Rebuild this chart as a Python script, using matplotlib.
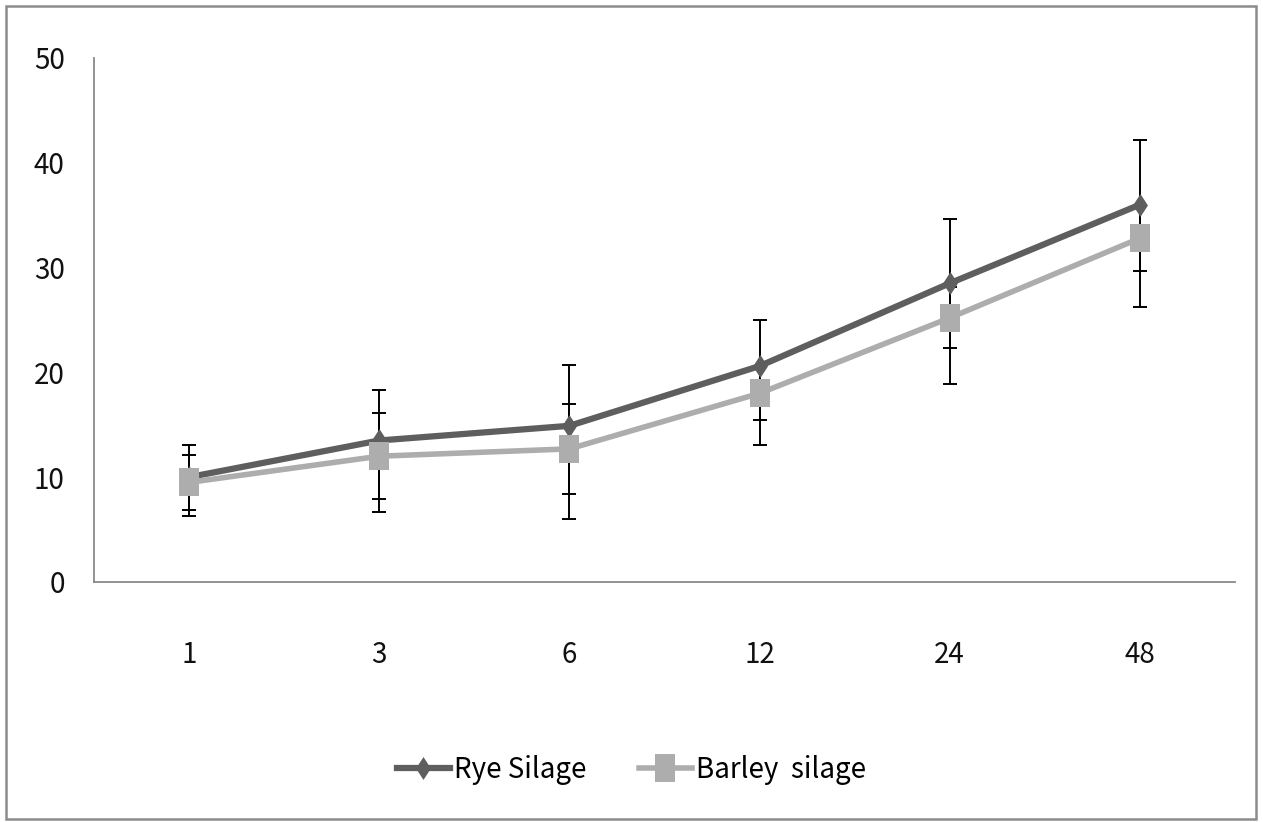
import matplotlib
matplotlib.use("Agg")
import matplotlib.pyplot as plt
from matplotlib.patches import Rectangle

# incubation times (h) and degradability means
hours = ["1", "3", "6", "12", "24", "48"]
rye = [10.0, 13.5, 14.9, 20.6, 28.5, 36.0]
barley = [9.5, 12.0, 12.7, 18.0, 25.2, 32.8]

# error bar extents (below / above mean)
rye_err_low = [3.7, 6.8, 8.9, 7.5, 9.6, 9.8]
rye_err_high = [3.1, 4.8, 5.8, 4.4, 6.1, 6.2]
barley_err = [2.6, 4.1, 4.3, 2.5, 2.9, 3.1]

yticks = [0, 10, 20, 30, 40, 50]

plt.rcParams['font.family'] = ['Noto Sans CJK KR', 'DejaVu Sans']

fig = plt.figure(figsize=(12.63, 8.22), dpi=100)
ax = fig.add_axes([0.0744, 0.292, 0.9034, 0.6375])

x = list(range(len(hours)))

# tall diamond and tall square markers
diamond = [(0, 1), (0.65, 0), (0, -1), (-0.65, 0), (0, 1)]
square = [(-0.75, -1), (0.75, -1), (0.75, 1), (-0.75, 1), (-0.75, -1)]

ax.errorbar(x, rye, yerr=[rye_err_low, rye_err_high], fmt='none',
            ecolor='black', elinewidth=1.4, capsize=4.7, capthick=1.4, zorder=1)
ax.errorbar(x, barley, yerr=barley_err, fmt='none',
            ecolor='black', elinewidth=1.4, capsize=4.7, capthick=1.4, zorder=1)

ax.plot(x, rye, color='#5e5e5e', lw=4.5, marker=diamond, markersize=16.5,
        markeredgewidth=0, label='Rye Silage', zorder=2)
ax.plot(x, barley, color='#adadad', lw=4.0, marker=square, markersize=20,
        markeredgewidth=0, label='Barley  silage', zorder=3)

ax.set_xlim(-0.5, len(hours) - 0.5)
ax.set_ylim(0, 50)
ax.set_xticks(x)
ax.set_xticklabels(hours)
ax.set_yticks(yticks)

for side in ['top', 'right']:
    ax.spines[side].set_visible(False)
for side in ['left', 'bottom']:
    ax.spines[side].set_color('#8a8a8a')
    ax.spines[side].set_linewidth(1.3)

ax.tick_params(axis='both', length=0, labelsize=20, colors='#111111')
ax.tick_params(axis='y', pad=21)
ax.tick_params(axis='x', pad=42)

fig.legend(loc='center', bbox_to_anchor=(0.5, 1 - 770 / 822), ncol=2,
           frameon=False, fontsize=20, handlelength=1.9, handletextpad=0.15,
           columnspacing=1.9)

# outer frame
fig.patches.append(Rectangle((6 / 1263, 3 / 822), 1250 / 1263, 813 / 822,
                             transform=fig.transFigure, fill=False,
                             edgecolor='#8c8c8c', lw=1.8))

fig.savefig('out.png', dpi=100)
